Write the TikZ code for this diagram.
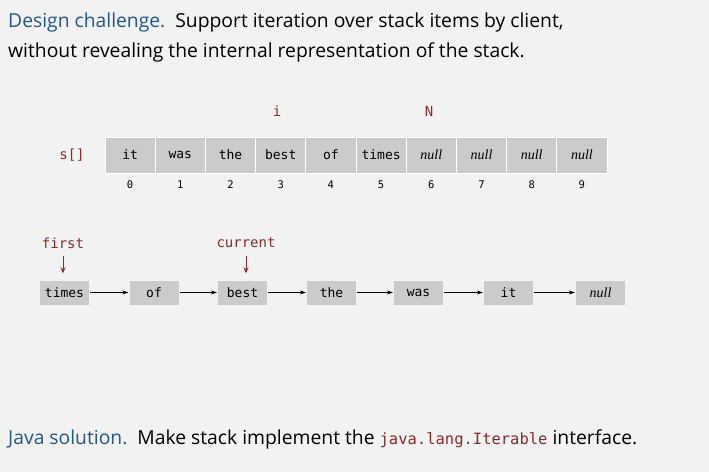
\documentclass[tikz,border=0pt]{standalone}
\usepackage{fontspec}
\setmainfont{Open Sans}
\setmonofont{DejaVu Sans Mono}
\newfontfamily\nullfam{Liberation Serif}
\usetikzlibrary{arrows.meta}
\definecolor{bg}{HTML}{F2F2F2}
\definecolor{cellgray}{HTML}{CBCBCB}
\definecolor{titleblue}{HTML}{22578C}
\definecolor{darkred}{HTML}{8B2B2B}
\newcommand{\nulltext}{{\nullfam\itshape\fontsize{14}{14}\selectfont null}}
\tikzset{
  cell/.style={fill=cellgray, draw=white, line width=0.8pt, minimum width=50.2pt, minimum height=36pt, inner sep=0pt, font=\fontsize{13}{13}\ttfamily},
  lnode/.style={fill=cellgray, minimum width=49pt, minimum height=24pt, inner sep=0pt, font=\fontsize{13}{13}\ttfamily},
  idx/.style={font=\fontsize{10.5}{10.5}\ttfamily},
  redlbl/.style={text=darkred, font=\fontsize{14}{14}\ttfamily},
  link/.style={-{Stealth[length=6pt,width=4pt]}, line width=0.8pt, black},
  redarrow/.style={-{Stealth[length=6pt,width=5pt]}, line width=1pt, darkred},
  body/.style={anchor=base west, inner sep=0pt, font=\fontsize{19.3}{19.3}\selectfont}
}
\begin{document}
\begin{tikzpicture}[x=1pt,y=-1pt]
\useasboundingbox (0,0) rectangle (709,472);
\fill[bg] (0,0) rectangle (709,472);
% title
\node[body] (t1) at (8,27) {\textcolor{titleblue}{Design challenge.}\ \ Support iteration over stack items by client,};
\node[body] (t2) at (8,57) {without revealing the internal representation of the stack.};
% array
\foreach \w [count=\k from 0] in {it,was,the,best,of,times}{
  \node[cell] (c\k) at (130.1+50.2*\k,155) {\w};
  \node[idx] (n\k) at (130.1+50.2*\k,185) {\k};
}
\foreach \k in {6,...,9}{
  \node[cell] (c\k) at (130.1+50.2*\k,155) {\nulltext};
  \node[idx] (n\k) at (130.1+50.2*\k,185) {\k};
}
\node[redlbl] (s) at (72,155) {s[]};
\node[redlbl] (i) at (277,111) {i};
\node[redlbl] (N) at (429,111) {N};
% linked list
\node[lnode] (l0) at (64.5,292.5) {times};
\node[lnode] (l1) at (154,292.5) {of};
\node[lnode] (l2) at (242.5,292.5) {best};
\node[lnode] (l3) at (331.5,292.5) {the};
\node[lnode] (l4) at (418.5,292.5) {was};
\node[lnode] (l5) at (508.5,292.5) {it};
\node[lnode] (l6) at (600.5,292.5) {\nulltext};
\foreach \a/\b in {0/1,1/2,2/3,3/4,4/5,5/6}{
  \draw[link] ([xshift=1pt]l\a.east) -- ([xshift=-1pt]l\b.west);
}
\node[redlbl] (first) at (63,243) {first};
\node[redlbl] (cur) at (246,243) {current};
\coordinate (fa) at (63,256);
\coordinate (ca) at (246,256);
\draw[redarrow] (fa) -- ([yshift=7pt]l0.north -| fa);
\draw[redarrow] (ca) -- ([yshift=7pt]l2.north -| ca);
% bottom
\node[body] (b) at (8,444) {\textcolor{titleblue}{Java solution.}\ \ Make stack implement the \textcolor{darkred}{\fontsize{15.5}{15.5}\ttfamily java.lang.Iterable} interface.};
\end{tikzpicture}
\end{document}
